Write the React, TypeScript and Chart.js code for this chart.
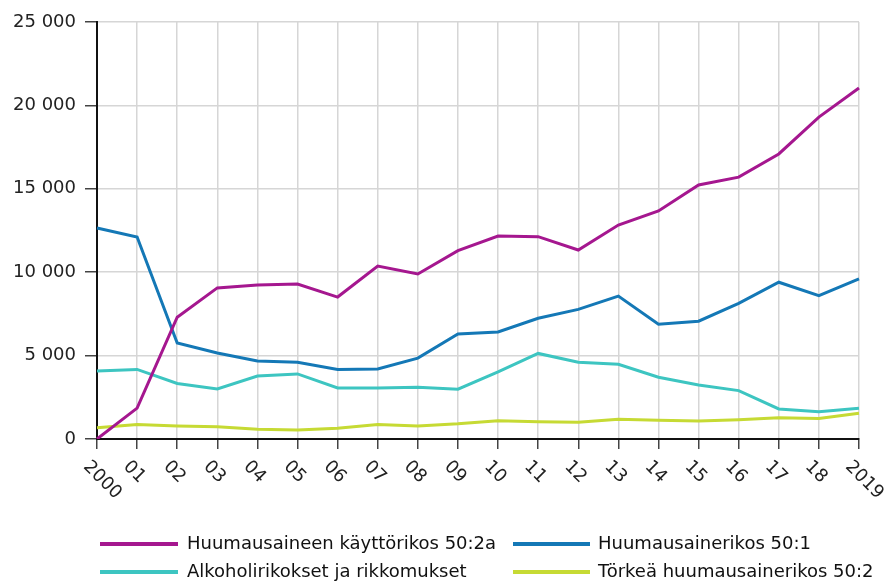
import React, { useEffect, useRef } from 'react';
import { Chart, registerables } from 'chart.js';

Chart.register(...registerables);

const years = ['2000', '01', '02', '03', '04', '05', '06', '07', '08', '09', '10', '11', '12', '13', '14', '15', '16', '17', '18', '2019'];

const seriesNames = [
  'Huumausaineen käyttörikos 50:2a',
  'Huumausainerikos 50:1',
  'Alkoholirikokset ja rikkomukset',
  'Törkeä huumausainerikos 50:2',
];

const kayttorikos = [0, 1850, 7300, 9060, 9230, 9290, 8510, 10370, 9890, 11290, 12170, 12130, 11330, 12830, 13670, 15230, 15700, 17090, 19300, 21040];
const huumausainerikos = [12650, 12110, 5760, 5160, 4680, 4600, 4170, 4200, 4850, 6290, 6420, 7240, 7770, 8570, 6880, 7060, 8130, 9400, 8590, 9600];
const alkoholirikokset = [4080, 4170, 3330, 3000, 3780, 3900, 3060, 3060, 3100, 2990, 4020, 5130, 4600, 4480, 3700, 3240, 2900, 1800, 1640, 1840];
const torkea = [680, 870, 780, 740, 580, 540, 640, 870, 780, 910, 1100, 1030, 1000, 1180, 1120, 1080, 1160, 1270, 1230, 1540];

const yTickValues = [0, 5000, 10000, 15000, 20000, 25000];
const yTickLabels = ['0', '5 000', '10 000', '15 000', '20 000', '25 000'];

const colors = ['#a5178f', '#1478b6', '#3dc5c1', '#c6da34'];

const FONT = '"DejaVu Sans", Verdana, sans-serif';

const rotatedXLabels = {
  id: 'rotatedXLabels',
  afterDraw(chart: any) {
    const { ctx } = chart;
    const xs = chart.scales.x;
    ctx.save();
    ctx.font = `18px ${FONT}`;
    ctx.fillStyle = '#222';
    ctx.textAlign = 'left';
    ctx.textBaseline = 'middle';
    (chart.data.labels as string[]).forEach((lab, i) => {
      const px = xs.getPixelForValue(i);
      ctx.save();
      ctx.translate(px - 11, xs.top + 25);
      ctx.rotate(Math.PI / 4);
      ctx.fillText(lab, 0, 0);
      ctx.restore();
    });
    ctx.restore();
  },
};

const gridLegend = {
  id: 'gridLegend',
  afterDraw(chart: any) {
    const { ctx } = chart;
    const colLine = [[100, 178], [513, 590]];
    const colText = [187, 598];
    const rowY = [544, 572];
    ctx.save();
    ctx.font = `18px ${FONT}`;
    ctx.textAlign = 'left';
    ctx.textBaseline = 'middle';
    chart.data.datasets.forEach((ds: any, i: number) => {
      const col = i % 2;
      const row = Math.floor(i / 2);
      const y = rowY[row];
      ctx.strokeStyle = ds.borderColor;
      ctx.lineWidth = 4;
      ctx.beginPath();
      ctx.moveTo(colLine[col][0], y);
      ctx.lineTo(colLine[col][1], y);
      ctx.stroke();
      ctx.fillStyle = '#111';
      ctx.fillText(ds.label, colText[col], y);
    });
    ctx.restore();
  },
};

export default function App() {
  const canvasRef = useRef<HTMLCanvasElement | null>(null);

  useEffect(() => {
    document.body.style.margin = '0';
    const canvas = canvasRef.current;
    if (!canvas) return;
    const dataArrays = [kayttorikos, huumausainerikos, alkoholirikokset, torkea];
    const chart = new Chart(canvas, {
      type: 'line',
      data: {
        labels: years,
        datasets: dataArrays.map((d, i) => ({
          label: seriesNames[i],
          data: d,
          borderColor: colors[i],
          backgroundColor: colors[i],
          borderWidth: 3,
          pointRadius: 0,
          tension: 0,
          fill: false,
        })),
      },
      options: {
        animation: false,
        responsive: false,
        maintainAspectRatio: false,
        layout: { padding: { left: 0, right: 28, top: 22, bottom: 0 } },
        plugins: {
          legend: { display: false },
          tooltip: { enabled: false },
          title: { display: false },
        },
        scales: {
          x: {
            type: 'category',
            offset: false,
            afterFit(scale: any) {
              scale.height = 144;
            },
            grid: {
              color: '#d6d6d6',
              lineWidth: 1.5,
              tickLength: 10,
              tickColor: '#444',
              tickWidth: 1.5,
            },
            border: { color: '#111', width: 2 },
            ticks: { display: false },
          },
          y: {
            min: 0,
            max: 25000,
            afterFit(scale: any) {
              scale.width = 97;
            },
            afterBuildTicks(scale: any) {
              scale.ticks = yTickValues.map((v) => ({ value: v }));
            },
            grid: {
              color: '#d6d6d6',
              lineWidth: 1.5,
              tickLength: 12,
              tickColor: '#444',
              tickWidth: 1.5,
            },
            border: { color: '#111', width: 2 },
            ticks: {
              padding: 9,
              color: '#222',
              font: { family: FONT, size: 18 },
              callback: (value: any) => {
                const idx = yTickValues.indexOf(Number(value));
                return idx >= 0 ? yTickLabels[idx] : '';
              },
            },
          },
        },
      },
      plugins: [rotatedXLabels, gridLegend],
    } as any);
    return () => chart.destroy();
  }, []);

  return (
    <div style={{ width: 887, height: 583, background: '#fff' }}>
      <canvas ref={canvasRef} width={887} height={583} style={{ display: 'block' }} />
    </div>
  );
}
